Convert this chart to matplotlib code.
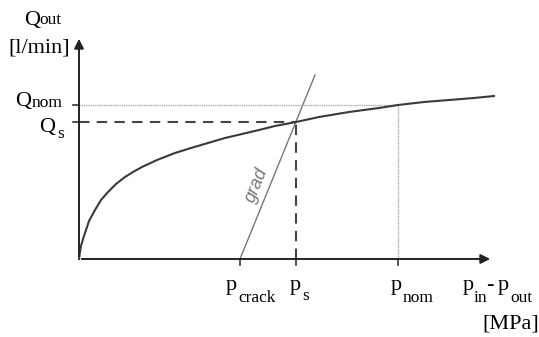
import matplotlib.pyplot as plt

# Data (arbitrary units)
curve_p = [0, 1, 2, 4, 6, 10, 16, 22, 29, 37, 46, 54, 63, 78, 96, 112, 129,
           146, 163, 180, 196, 217, 240, 270, 300, 319, 345, 370, 395, 415]
curve_q = [0, 7, 13, 20, 26, 38, 49, 59, 67, 75, 82, 87, 92, 99, 106, 111, 116,
           121, 125, 129, 133, 137, 142, 147, 151, 154, 157, 159, 161, 163]

p_crack, p_s, p_nom = 161, 217, 319
q_s, q_nom = 137, 154
grad_p = [161, 236]
grad_q = [0, 184]

x_ticks = [p_crack, p_s, p_nom]
y_ticks = [q_nom, q_s]

fig = plt.figure(figsize=(5.39, 3.37), dpi=100)
ax = fig.add_axes([0, 0, 1, 1])
ax.set_xlim(-79, 460)
ax.set_ylim(-78, 259)
ax.axis('off')

serif = 'Liberation Serif'
fs, fs_sub = 16, 12.5


def sub_label(x, y, main, xs, ys, sub):
    ax.text(x, y, main, fontsize=fs, family=serif, ha='left', va='baseline')
    ax.text(xs, ys, sub, fontsize=fs_sub, family=serif, ha='left', va='baseline')


# axes with arrows
ax.annotate('', xy=(414, 0), xytext=(0, 0),
            arrowprops=dict(arrowstyle='-|>', color='#222', lw=1.4, mutation_scale=14))
ax.annotate('', xy=(0, 223), xytext=(0, 0),
            arrowprops=dict(arrowstyle='-|>', color='#222', lw=1.4, mutation_scale=14))

# guide lines
ax.plot([0, p_s], [q_s, q_s], color='#444', lw=1.5, ls=(0, (5, 3.5)))
ax.plot([p_s, p_s], [0, q_s], color='#444', lw=1.5, ls=(0, (5, 3.5)))
ax.plot([0, p_nom], [q_nom, q_nom], color='#aaa', lw=1.0, ls=(0, (1, 0.6)))
ax.plot([p_nom, p_nom], [0, q_nom], color='#aaa', lw=1.0, ls=(0, (1, 0.6)))

# gradient line and curve
ax.plot(grad_p, grad_q, color='#777', lw=1.0)
ax.plot(curve_p, curve_q, color='#3a3a3a', lw=1.5, solid_joinstyle='round')

# tick marks
for x in x_ticks:
    ax.plot([x, x], [0, -6], color='#333', lw=1.2)
for y in y_ticks:
    ax.plot([-6, 0], [y, y], color='#333', lw=1.2)

# x labels
sub_label(147, -31, 'p', 159, -43, 'crack')
sub_label(211, -31, 'p', 223, -41, 's')
sub_label(312, -31, 'p', 324, -43, 'nom')
sub_label(384, -31, 'p', 395, -43, 'in')
ax.text(411, -31, '-', fontsize=fs, family=serif, ha='center', va='baseline')
sub_label(419, -31, 'p', 431, -43, 'out')
ax.text(460, -69, '[MPa]', fontsize=fs, family=serif, ha='right', va='baseline')

# y labels
sub_label(-55, 234, 'Q', -40, 235, 'out')
ax.text(-71, 206, '[l/min]', fontsize=fs, family=serif, ha='left', va='baseline')
sub_label(-64, 153, 'Q', -47, 152, 'nom')
sub_label(-40, 127, 'Q', -22, 121, 's')

ax.text(178, 74, 'grad', fontsize=13, family='Liberation Sans', style='italic',
        color='#777', rotation=68, ha='center', va='center')

plt.savefig('out.png', dpi=100)
